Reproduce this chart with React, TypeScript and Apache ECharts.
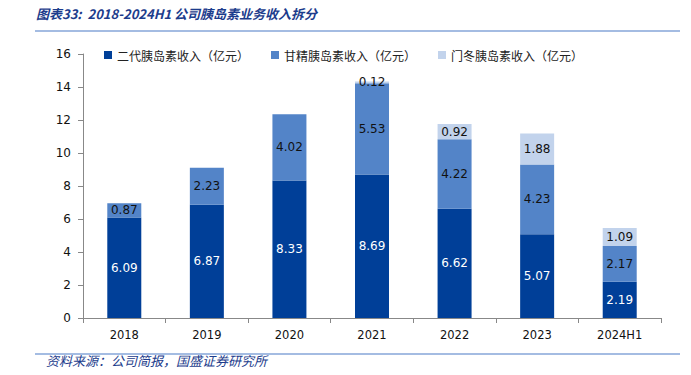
import React, { useEffect, useRef } from "react";
import * as echarts from "echarts";

const categories = ["2018", "2019", "2020", "2021", "2022", "2023", "2024H1"];
const gen2 = [6.09, 6.87, 8.33, 8.69, 6.62, 5.07, 2.19];
const glargine = [0.87, 2.23, 4.02, 5.53, 4.22, 4.23, 2.17];
const aspart = [null, null, null, 0.12, 0.92, 1.88, 1.09];
const seriesNames = ["二代胰岛素收入（亿元）", "甘精胰岛素收入（亿元）", "门冬胰岛素收入（亿元）"];
const yTicks = { min: 0, max: 16, interval: 2 };
const titleText = "图表33:  2018-2024H1 公司胰岛素业务收入拆分";
const sourceText = "资料来源：公司简报，国盛证券研究所";

export default function App() {
  const ref = useRef<HTMLDivElement>(null);
  useEffect(() => {
    const chart = echarts.init(ref.current!, null, { renderer: "svg" });
    const colors = ["#003f98", "#5384c8", "#c2d3ec"];
    const labelColors = ["#ffffff", "#111111", "#111111"];
    const datas = [gen2, glargine, aspart];
    chart.setOption({
      animation: false,
      textStyle: { fontFamily: "DejaVu Sans" },
      grid: { left: 83, right: 30, top: 54, bottom: 57 },
      legend: {
        top: 44,
        left: 99,
        itemWidth: 8,
        itemHeight: 8,
        itemGap: 22,
        icon: "rect",
        textStyle: { fontFamily: "Noto Sans CJK SC", fontSize: 12, color: "#222" },
        data: seriesNames,
      },
      xAxis: {
        type: "category",
        data: categories,
        axisLine: { lineStyle: { color: "#888" } },
        axisTick: { show: true, alignWithLabel: false, length: 5, lineStyle: { color: "#888" } },
        axisLabel: { color: "#111", fontSize: 11.5, margin: 11 },
      },
      yAxis: {
        type: "value",
        min: yTicks.min,
        max: yTicks.max,
        interval: yTicks.interval,
        splitLine: { show: false },
        axisLine: { show: true, lineStyle: { color: "#888" } },
        axisTick: { show: true, length: 5, lineStyle: { color: "#888" } },
        axisLabel: { color: "#111", fontSize: 12, margin: 12 },
      },
      series: seriesNames.map((name, i) => ({
        name,
        type: "bar",
        stack: "total",
        barWidth: 34,
        data: datas[i],
        itemStyle: { color: colors[i] },
        label: {
          show: true,
          position: "inside",
          color: labelColors[i],
          fontSize: 12,
          formatter: (p: any) => (p.value == null ? "" : Number(p.value).toFixed(2)),
        },
      })),
      graphic: [
        {
          type: "text",
          left: 36,
          top: 7,
          style: {
            text: titleText,
            fontSize: 13,
            fontStyle: "italic",
            fontWeight: "bold",
            fontFamily: "Noto Sans CJK SC",
            fill: "#1c3c8c",
          },
        },
        {
          type: "line",
          shape: { x1: 35, y1: 31, x2: 680, y2: 31 },
          style: { stroke: "#86a6d8", lineWidth: 1.5 },
        },
        {
          type: "line",
          shape: { x1: 35, y1: 354, x2: 680, y2: 354 },
          style: { stroke: "#86a6d8", lineWidth: 1.5 },
        },
        {
          type: "text",
          left: 46,
          top: 354,
          style: {
            text: sourceText,
            fontSize: 13,
            fontStyle: "italic",
            fontFamily: "Noto Sans CJK SC",
            fill: "#1c3c8c",
          },
        },
      ],
    });
    return () => chart.dispose();
  }, []);
  return <div ref={ref} style={{ width: 691, height: 375, position: "absolute", left: 0, top: 0 }} />;
}
